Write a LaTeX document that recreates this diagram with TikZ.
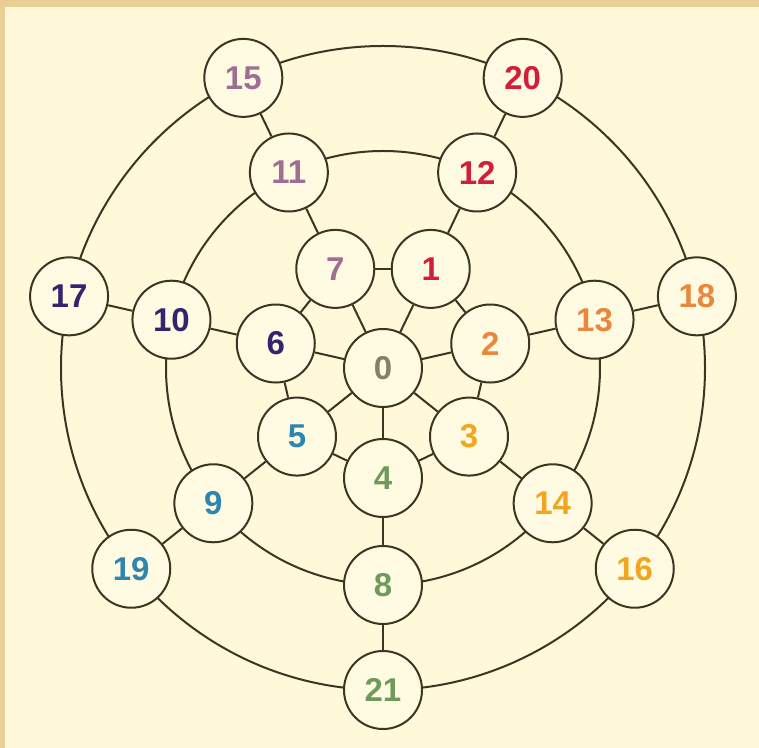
\documentclass[tikz,border=0pt]{standalone}
\usepackage{fontspec}
\setmainfont{Liberation Sans}
\usetikzlibrary{positioning}

\definecolor{marco}{HTML}{E9CF95}
\definecolor{papel}{HTML}{FFF9DA}
\definecolor{relleno}{HTML}{FFFBE3}
\definecolor{linea}{HTML}{3B3522}
\definecolor{gris}{HTML}{857E69}
\definecolor{rojo}{HTML}{D11F3A}
\definecolor{naranja}{HTML}{E9873C}
\definecolor{oro}{HTML}{F2A51E}
\definecolor{verde}{HTML}{6F9A5B}
\definecolor{turquesa}{HTML}{2E86B0}
\definecolor{indigo}{HTML}{35236E}
\definecolor{malva}{HTML}{A06E92}

\begin{document}
\begin{tikzpicture}[
        x=0.5pt, y=0.5pt,
        numero/.style={
            circle,
            minimum size=39pt,
            inner sep=0pt,
            draw=linea,
            line width=1pt,
            fill=relleno,
            font=\fontsize{16.5pt}{19pt}\selectfont\bfseries
        },
        enlace/.style={
            draw=linea,
            line width=1pt
        }
    ]
        \fill[marco] (-383,-380) rectangle (376,368);
        \fill[papel] (-378,-380) rectangle (376,361);
        \coordinate (centro) at (0,0);
        \draw[enlace] (centro) circle[radius=217];
        \draw[enlace] (centro) circle[radius=322];

        \node[numero, text=gris] (n0) at (centro) {0};
        \node[numero, text=rojo] (n1) at (64.29:110) {1};
        \node[numero, text=naranja] (n2) at (12.86:110) {2};
        \node[numero, text=oro] (n3) at (-38.57:110) {3};
        \node[numero, text=verde] (n4) at (-90:110) {4};
        \node[numero, text=turquesa] (n5) at (218.57:110) {5};
        \node[numero, text=indigo] (n6) at (167.14:110) {6};
        \node[numero, text=malva] (n7) at (115.71:110) {7};

        \node[numero, text=verde] (n8) at (-90:217) {8};
        \node[numero, text=turquesa] (n9) at (218.57:217) {9};
        \node[numero, text=indigo] (n10) at (167.14:217) {10};
        \node[numero, text=malva] (n11) at (115.71:217) {11};
        \node[numero, text=rojo] (n12) at (64.29:217) {12};
        \node[numero, text=naranja] (n13) at (12.86:217) {13};
        \node[numero, text=oro] (n14) at (-38.57:217) {14};

        \node[numero, text=malva] (n15) at (115.71:322) {15};
        \node[numero, text=oro] (n16) at (-38.57:322) {16};
        \node[numero, text=indigo] (n17) at (167.14:322) {17};
        \node[numero, text=naranja] (n18) at (12.86:322) {18};
        \node[numero, text=turquesa] (n19) at (218.57:322) {19};
        \node[numero, text=rojo] (n20) at (64.29:322) {20};
        \node[numero, text=verde] (n21) at (-90:322) {21};

        \draw[enlace] (n0) -- (n1);
        \draw[enlace] (n0) -- (n2);
        \draw[enlace] (n0) -- (n3);
        \draw[enlace] (n0) -- (n4);
        \draw[enlace] (n0) -- (n5);
        \draw[enlace] (n0) -- (n6);
        \draw[enlace] (n0) -- (n7);

        \draw[enlace] (n1) -- (n2);
        \draw[enlace] (n2) -- (n3);
        \draw[enlace] (n3) -- (n4);
        \draw[enlace] (n4) -- (n5);
        \draw[enlace] (n5) -- (n6);
        \draw[enlace] (n6) -- (n7);
        \draw[enlace] (n7) -- (n1);

        \draw[enlace] (n1) -- (n12);
        \draw[enlace] (n2) -- (n13);
        \draw[enlace] (n3) -- (n14);
        \draw[enlace] (n4) -- (n8);
        \draw[enlace] (n5) -- (n9);
        \draw[enlace] (n6) -- (n10);
        \draw[enlace] (n7) -- (n11);

        \draw[enlace] (n12) -- (n20);
        \draw[enlace] (n13) -- (n18);
        \draw[enlace] (n14) -- (n16);
        \draw[enlace] (n8) -- (n21);
        \draw[enlace] (n9) -- (n19);
        \draw[enlace] (n10) -- (n17);
        \draw[enlace] (n11) -- (n15);
    \end{tikzpicture}
\end{document}
